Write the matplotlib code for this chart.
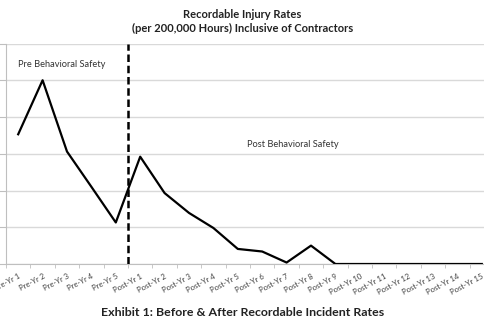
import matplotlib.pyplot as plt

# categories and rates
years = ["Pre-Yr 1", "Pre-Yr 2", "Pre-Yr 3", "Pre-Yr 4", "Pre-Yr 5"] + \
        [f"Post-Yr {i}" for i in range(1, 16)]
rates = [3.53, 5.0, 3.06, 2.1, 1.13,
         2.92, 1.93, 1.39, 0.98, 0.41, 0.34, 0.04, 0.5,
         0, 0, 0, 0, 0, 0, 0]
split_at = 4.5  # boundary between pre and post program

plt.rcParams['font.family'] = ['Lato', 'DejaVu Sans']

fig = plt.figure(figsize=(4.85, 3.30), dpi=100)
ax = fig.add_axes([6 / 485, 66 / 330, 488 / 485, 220.5 / 330])

x = list(range(len(years)))
ax.plot(x, rates, color='black', linewidth=1.6, zorder=3)
ax.axvline(split_at, color='black', linestyle=(0, (3, 1.5)), linewidth=1.8, zorder=4)

ax.set_xlim(-0.5, len(years) - 0.5)
ax.set_ylim(0, 6)
ax.set_yticks(range(0, 7))
ax.set_yticklabels([])
ax.yaxis.grid(True, color='#d9d9d9', linewidth=1)
ax.set_axisbelow(True)

ax.set_xticks(x)
ax.set_xticklabels(years, rotation=28, ha='right', rotation_mode='anchor',
                   fontsize=5.5, color='#404040')
ax.set_xticks([i - 0.5 for i in range(len(years) + 1)], minor=True)
ax.tick_params(axis='x', which='major', length=0, pad=6)
ax.tick_params(axis='x', which='minor', length=3, color='#bfbfbf')
ax.tick_params(axis='y', length=5, color='#bfbfbf')

for side in ['top', 'right']:
    ax.spines[side].set_visible(False)
for side in ['left', 'bottom']:
    ax.spines[side].set_color('#bfbfbf')

ax.text(-0.02, 5.42, "Pre Behavioral Safety", fontsize=6.7, color='#333333', va='center')
ax.text(9.38, 3.24, "Post Behavioral Safety", fontsize=6.7, color='#333333', va='center')

fig.text(0.5, 1 - 14 / 330, "Recordable Injury Rates", ha='center', va='center',
         fontsize=8, fontweight='bold', color='#222222')
fig.text(0.5, 1 - 28 / 330, "(per 200,000 Hours) Inclusive of Contractors", ha='center',
         va='center', fontsize=8, fontweight='bold', color='#222222')
fig.text(0.5, 1 - 312 / 330, "Exhibit 1: Before & After Recordable Incident Rates",
         ha='center', va='center', fontsize=8.9, fontweight='bold', color='#222222')

fig.savefig("out.png", dpi=100)
